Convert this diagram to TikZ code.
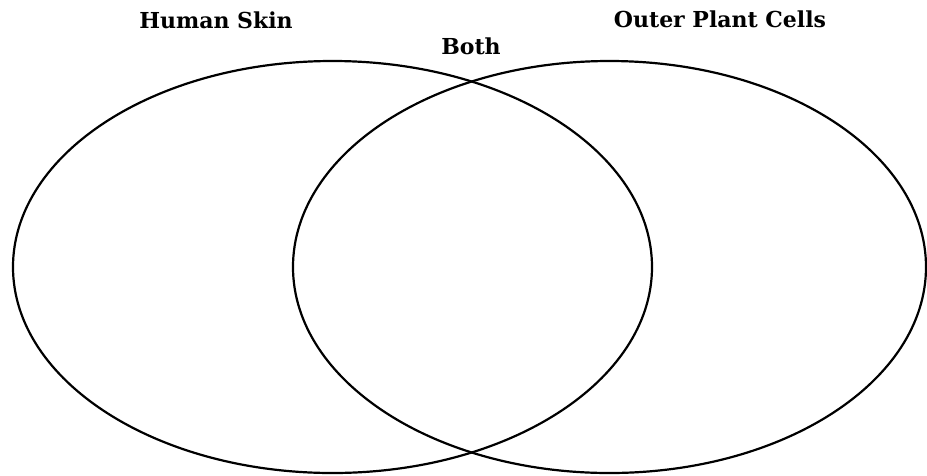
\documentclass[tikz,border=0pt]{standalone}
\usepackage{fontspec}
\setmainfont{DejaVu Serif}
\begin{document}
\begin{tikzpicture}[x=1pt,y=-1pt,
  ring/.style={draw=black,line width=2.2pt},
  lbl/.style={font=\fontsize{22}{26}\selectfont\bfseries,inner sep=0pt,anchor=base}]
\useasboundingbox (0,0) rectangle (927,475);
\draw[ring] (332.5,267) ellipse [x radius=319.5,y radius=206];
\draw[ring] (609.5,267) ellipse [x radius=316.5,y radius=206];
\node[lbl] (human) at (216,28) {Human Skin};
\node[lbl] (plant) at (720,27) {Outer Plant Cells};
\node[lbl] (both) at (471,54) {Both};
\end{tikzpicture}
\end{document}
